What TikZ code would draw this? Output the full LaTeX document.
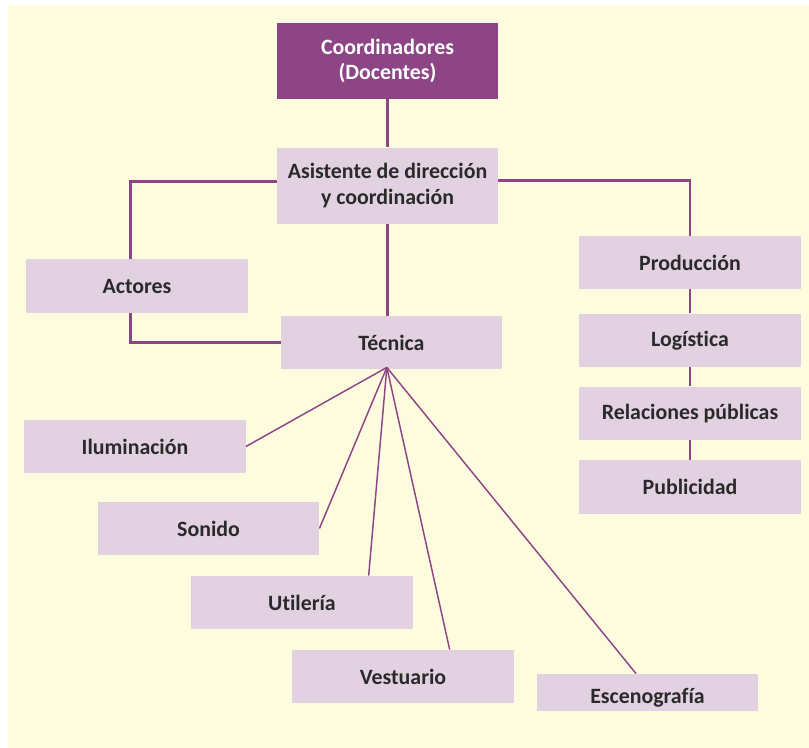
\documentclass[tikz,border=0pt]{standalone}
\usepackage{fontspec}
\setmainfont{Carlito}[Ligatures=NoCommon]
\usetikzlibrary{positioning}
\definecolor{plum}{HTML}{8E4585}
\definecolor{lilac}{HTML}{E1D1E1}
\definecolor{cream}{HTML}{FEFCDF}
\definecolor{ink}{HTML}{2B2A2B}

\begin{document}
\begin{tikzpicture}[x=0.75pt,y=-0.75pt,node distance=18pt,
    role node/.style={rectangle,fill=lilac,text=ink,minimum width=166pt,minimum height=40pt,inner sep=0pt,align=center,font=\bfseries\fontsize{16.4}{19}\selectfont},
    head node/.style={role node,fill=plum,text=white,minimum height=57pt},
    link/.style={draw=plum,line width=2.2pt},
    spoke/.style={draw=plum,line width=1.1pt}]
    \useasboundingbox (0,0) rectangle (809,748);
    \fill[cream] (8,5) rectangle (809,748);

    \node[head node] (coord) at (387.5,61) {Coordinadores\\(Docentes)};
    \node[role node,minimum height=57pt] (asist) [below=36pt of coord] {Asistente de dirección\\y coordinación};
    \node[role node] (actores) at (137,286) {Actores};
    \node[role node] (tecnica) at (391.5,342.5) {Técnica};

    \node[role node] (produccion) at (690,262.5) {Producción};
    \node[role node] (logistica) [below=18pt of produccion] {Logística};
    \node[role node] (relaciones) [below=14.25pt of logistica] {Relaciones públicas};
    \node[role node] (publicidad) [below=15pt of relaciones] {Publicidad};

    \node[role node] (iluminacion) at (135,446.5) {Iluminación};
    \node[role node] (sonido) at (208.5,528.5) {Sonido};
    \node[role node] (utileria) at (302,602.5) {Utilería};
    \node[role node] (vestuario) at (403,676.5) {Vestuario};
    \node[role node,minimum height=28pt,text height=16pt,text depth=0pt] (escenografia) at (647.5,692.5) {Escenografía};

    \path[link]
        (coord) edge (asist)
        (produccion) edge (logistica)
        (logistica) edge (relaciones)
        (relaciones) edge (publicidad)
        ;
    \draw[link] ([yshift=3pt]asist.west) -| ([xshift=-5pt]actores.north);
    \draw[link] ([yshift=4pt]asist.east) -| (produccion.north);
    \draw[link] (asist.south) -- (asist.south |- tecnica.north);
    \draw[link] ([xshift=-5pt]actores.south) |- (tecnica.west);

    \coordinate (hub) at ([xshift=-3.5pt,yshift=1.5pt]tecnica.south);
    \path[spoke]
        (hub) edge (iluminacion.east)
        (hub) edge (sonido.east)
        (hub) edge ([xshift=50pt]utileria.north)
        (hub) edge ([xshift=35pt]vestuario.north)
        (hub) edge ([xshift=-8.6pt]escenografia.north)
        ;
\end{tikzpicture}
\end{document}
